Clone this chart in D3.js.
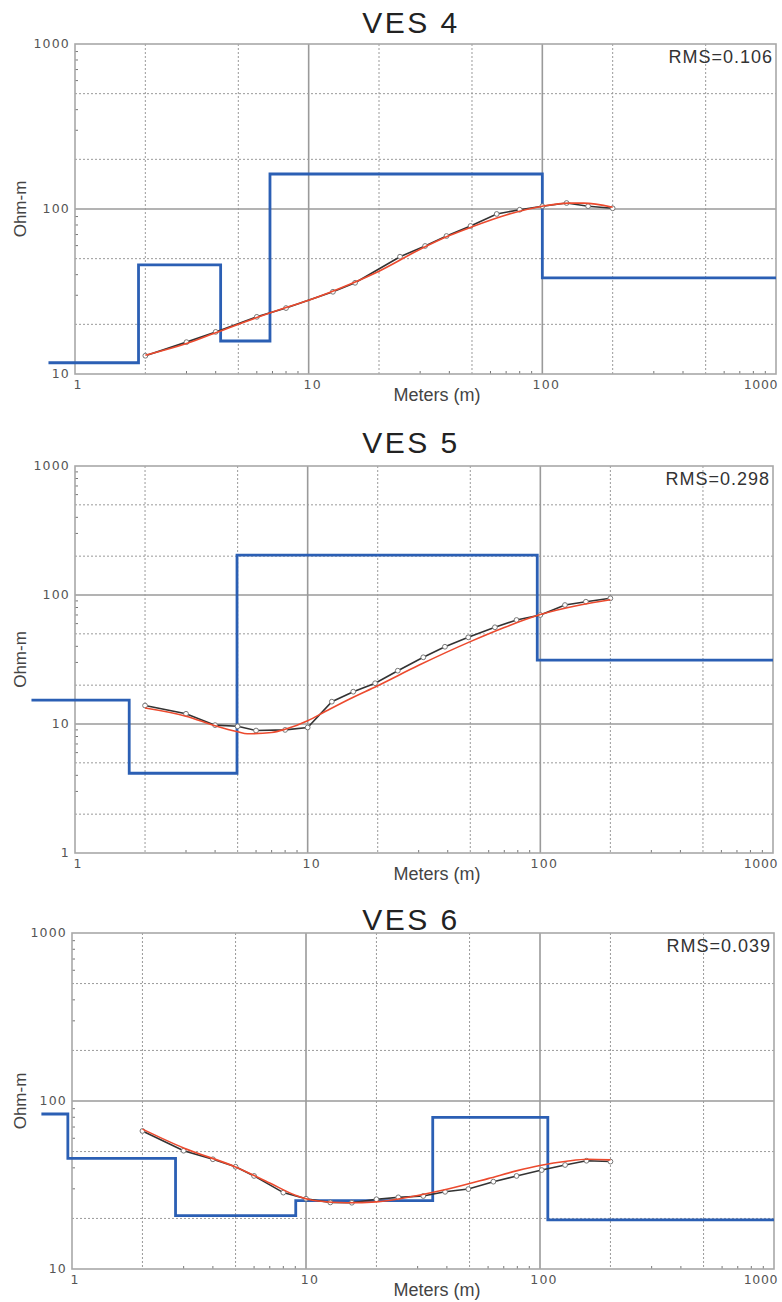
<!DOCTYPE html>
<html><head><meta charset="utf-8">
<script src="https://cdn.jsdelivr.net/npm/d3@7"></script>
<style>
html,body{margin:0;padding:0;background:#fff;}
svg{display:block;}
</style></head>
<body>
<svg id="chart" width="782" height="1302"></svg>
<script>
// ---------------- DATA ----------------
const titles = ["VES 4", "VES 5", "VES 6"];
const rmsLabels = ["RMS=0.106", "RMS=0.298", "RMS=0.039"];
const xTickValues = [1, 10, 100, 1000];
const xTickLabels = ["1", "10", "100", "1000"];
const yTicks4 = [10, 100, 1000];
const yTicks5 = [1, 10, 100, 1000];
const yTicks6 = [10, 100, 1000];

// Layered model (blue): layer tops (m) and resistivities (Ohm-m)
const ves4ModelDepth = [0.77, 1.87, 4.2, 6.83, 100, 1000];
const ves4ModelRho   = [11.7, 45.8, 15.85, 163, 38.2, 38.2];
const ves5ModelDepth = [0.65, 1.71, 4.97, 97, 1000];
const ves5ModelRho   = [15.3, 4.15, 204, 31.3, 31.3];
const ves6ModelDepth = [0.74, 0.96, 2.77, 9.04, 34.8, 108, 1000];
const ves6ModelRho   = [83.7, 45.6, 20.8, 25.5, 80, 19.6, 19.6];

// Observed apparent resistivity (black with circles)
const ves4ObsAB = [2, 3, 4, 6, 8, 12.7, 15.8, 24.6, 31.5, 38.9, 49.3, 63.8, 80, 100, 127, 157, 200];
const ves4ObsRho = [12.9, 15.6, 18.0, 22.2, 25.1, 31.5, 35.7, 51.4, 59.7, 68.6, 78.9, 93.3, 99, 104, 108.7, 104, 101];
const ves5ObsAB = [2, 3, 4, 5, 6, 8, 10, 12.7, 15.7, 19.5, 24.4, 31.4, 38.9, 49, 63.8, 79, 100, 127.6, 157, 200];
const ves5ObsRho = [13.9, 12.0, 9.8, 9.6, 8.9, 9.0, 9.4, 14.9, 17.8, 20.7, 25.9, 32.9, 39.7, 47, 56.2, 64, 70, 83.6, 88.7, 94.3];
const ves6ObsAB = [2, 3, 4, 5, 6, 8, 10, 12.7, 15.7, 20, 24.8, 31.7, 39.3, 49.4, 63.2, 79.4, 101.7, 128, 158, 200];
const ves6ObsRho = [66.3, 50.6, 45, 40.6, 35.8, 28.5, 26.2, 24.9, 24.8, 26, 26.7, 27.2, 28.8, 29.9, 33.1, 35.8, 38.8, 41.6, 44.1, 43.6];

// Calculated curve (red)
const ves4CalcAB = [2, 3, 4, 6, 8, 10, 15, 20, 30, 40, 50, 70, 100, 130, 150, 200];
const ves4CalcRho = [13.0, 15.3, 17.8, 22.0, 25.3, 28.0, 35.0, 42.0, 57.0, 69.0, 78.0, 92.0, 104, 108.5, 108.5, 102.5];
const ves5CalcAB = [2, 3, 4, 5, 5.5, 7, 8, 10, 12, 15, 20, 30, 50, 70, 100, 150, 200];
const ves5CalcRho = [13.3, 11.5, 9.7, 8.7, 8.4, 8.6, 9.1, 10.6, 12.6, 15.5, 19.8, 28.5, 43.5, 56, 70.5, 84, 92];
const ves6CalcAB = [2, 3, 5, 7, 9, 11, 15, 20, 30, 40, 60, 80, 100, 130, 160, 200];
const ves6CalcRho = [68, 52.5, 40.5, 32.5, 27.5, 25.5, 24.8, 25.1, 27.4, 29.8, 34.5, 38.5, 41.3, 43.8, 45.0, 44.6];

// ---------------- DRAW ----------------
const svg = d3.select("#chart");
const panels = [
  {title: titles[0], rms: rmsLabels[0], yTicks: yTicks4, yDom: [10, 1000],
   left: 75, right: 776, top: 44, bottom: 374, titleY: 33,
   model: [ves4ModelDepth, ves4ModelRho], obs: [ves4ObsAB, ves4ObsRho], calc: [ves4CalcAB, ves4CalcRho]},
  {title: titles[1], rms: rmsLabels[1], yTicks: yTicks5, yDom: [1, 1000],
   left: 75, right: 773, top: 466, bottom: 853, titleY: 453,
   model: [ves5ModelDepth, ves5ModelRho], obs: [ves5ObsAB, ves5ObsRho], calc: [ves5CalcAB, ves5CalcRho]},
  {title: titles[2], rms: rmsLabels[2], yTicks: yTicks6, yDom: [10, 1000],
   left: 72, right: 774, top: 933, bottom: 1269, titleY: 930,
   model: [ves6ModelDepth, ves6ModelRho], obs: [ves6ObsAB, ves6ObsRho], calc: [ves6CalcAB, ves6CalcRho]}
];

const gridCol = "#9a9a9a";
const font = "'Liberation Sans', Arial, Helvetica, sans-serif";
const tickFont = "'DejaVu Sans', Verdana, sans-serif";

panels.forEach(p => {
  const x = d3.scaleLog().domain([1, 1000]).range([p.left, p.right]);
  const y = d3.scaleLog().domain(p.yDom).range([p.bottom, p.top]);
  const g = svg.append("g");

  const xAll = [], yAll = [];
  for (let d = 1; d < 1000; d *= 10) for (let m = 1; m < 10; m++) xAll.push(d * m);
  for (let d = p.yDom[0]; d < p.yDom[1]; d *= 10) for (let m = 1; m < 10; m++) yAll.push(d * m);
  const mant = v => Math.round(v / Math.pow(10, Math.floor(Math.log10(v) + 1e-9)));
  const isDot = v => { const m = mant(v); return m === 2 || m === 5; };
  const isDec = v => mant(v) === 1;

  // dotted grid
  g.selectAll(".vx").data(xAll.filter(isDot)).join("line")
    .attr("x1", d => x(d)).attr("x2", d => x(d)).attr("y1", p.top).attr("y2", p.bottom)
    .attr("stroke", gridCol).attr("stroke-width", 1).attr("stroke-dasharray", "2,2");
  g.selectAll(".hy").data(yAll.filter(isDot)).join("line")
    .attr("y1", d => y(d)).attr("y2", d => y(d)).attr("x1", p.left).attr("x2", p.right)
    .attr("stroke", gridCol).attr("stroke-width", 1).attr("stroke-dasharray", "2,2");
  // solid decade grid
  g.selectAll(".vd").data(xAll.filter(d => isDec(d) && d > 1)).join("line")
    .attr("x1", d => x(d)).attr("x2", d => x(d)).attr("y1", p.top).attr("y2", p.bottom)
    .attr("stroke", gridCol).attr("stroke-width", 1.6);
  g.selectAll(".hd").data(yAll.filter(d => isDec(d) && d > p.yDom[0])).join("line")
    .attr("y1", d => y(d)).attr("y2", d => y(d)).attr("x1", p.left).attr("x2", p.right)
    .attr("stroke", gridCol).attr("stroke-width", 1.6);

  // minor ticks
  const minorX = xAll.filter(d => !isDot(d) && !isDec(d));
  const minorY = yAll.filter(d => !isDot(d) && !isDec(d));
  g.selectAll(".mx").data(minorX).join("line")
    .attr("x1", d => x(d)).attr("x2", d => x(d)).attr("y1", p.bottom).attr("y2", p.bottom - 3)
    .attr("stroke", "#777").attr("stroke-width", 1);
  g.selectAll(".my").data(minorY).join("line")
    .attr("y1", d => y(d)).attr("y2", d => y(d)).attr("x1", p.left).attr("x2", p.left + 3)
    .attr("stroke", "#777").attr("stroke-width", 1);

  // frame
  g.append("rect").attr("x", p.left).attr("y", p.top)
    .attr("width", p.right - p.left).attr("height", p.bottom - p.top)
    .attr("fill", "none").attr("stroke", "#a8a8a8").attr("stroke-width", 1.6);

  // axis tick labels
  g.selectAll(".xt").data(xTickValues).join("text")
    .attr("x", (d, i) => i === 3 ? 778 : x(d) + (i === 0 ? 3 : 4))
    .attr("y", p.bottom + 15).attr("text-anchor", (d, i) => i === 3 ? "end" : "middle")
    .attr("font-family", tickFont).attr("font-size", 12.5).attr("letter-spacing", (d, i) => i === 3 ? 0.6 : 1.2).attr("fill", "#555")
    .text((d, i) => xTickLabels[i]);
  g.selectAll(".yt").data(p.yTicks).join("text")
    .attr("x", p.left - 5).attr("y", d => y(d) + 4).attr("text-anchor", "end")
    .attr("font-family", tickFont).attr("font-size", 12.5).attr("letter-spacing", 1.2).attr("fill", "#555")
    .text(d => String(d));

  // labels
  g.append("text").attr("x", 437).attr("y", p.bottom + 27).attr("text-anchor", "middle")
    .attr("font-family", font).attr("font-size", 18).attr("fill", "#444").text("Meters (m)");
  g.append("text").attr("transform", `translate(26,${(p.top + p.bottom) / 2}) rotate(-90)`)
    .attr("text-anchor", "middle").attr("font-family", font).attr("font-size", 17)
    .attr("fill", "#444").text("Ohm-m");
  g.append("text").attr("x", 411).attr("y", p.titleY).attr("text-anchor", "middle")
    .attr("font-family", font).attr("font-size", 30).attr("letter-spacing", 2.5).attr("fill", "#222").text(p.title);
  g.append("text").attr("x", p.right - 3).attr("y", p.top + 19).attr("text-anchor", "end")
    .attr("font-family", font).attr("font-size", 18).attr("letter-spacing", 1).attr("fill", "#333").text(p.rms);

  // model (blue step)
  const modelPts = p.model[0].map((d, i) => [d, p.model[1][i]]);
  g.append("path").datum(modelPts)
    .attr("d", d3.line().x(d => x(d[0])).y(d => y(d[1])).curve(d3.curveStepAfter))
    .attr("fill", "none").attr("stroke", "#2b5fb4").attr("stroke-width", 2.8);

  // observed (black + circles)
  const obsPts = p.obs[0].map((d, i) => [d, p.obs[1][i]]);
  g.append("path").datum(obsPts)
    .attr("d", d3.line().x(d => x(d[0])).y(d => y(d[1])))
    .attr("fill", "none").attr("stroke", "#333").attr("stroke-width", 1.6);
  g.selectAll(".pt").data(obsPts).join("circle")
    .attr("cx", d => x(d[0])).attr("cy", d => y(d[1])).attr("r", 2.4)
    .attr("fill", "#fff").attr("stroke", "#777").attr("stroke-width", 1);

  // calculated (red)
  const calcPts = p.calc[0].map((d, i) => [d, p.calc[1][i]]);
  g.append("path").datum(calcPts)
    .attr("d", d3.line().x(d => x(d[0])).y(d => y(d[1])).curve(d3.curveMonotoneX))
    .attr("fill", "none").attr("stroke", "#ec4a2e").attr("stroke-width", 1.6);
});
</script>
</body></html>
